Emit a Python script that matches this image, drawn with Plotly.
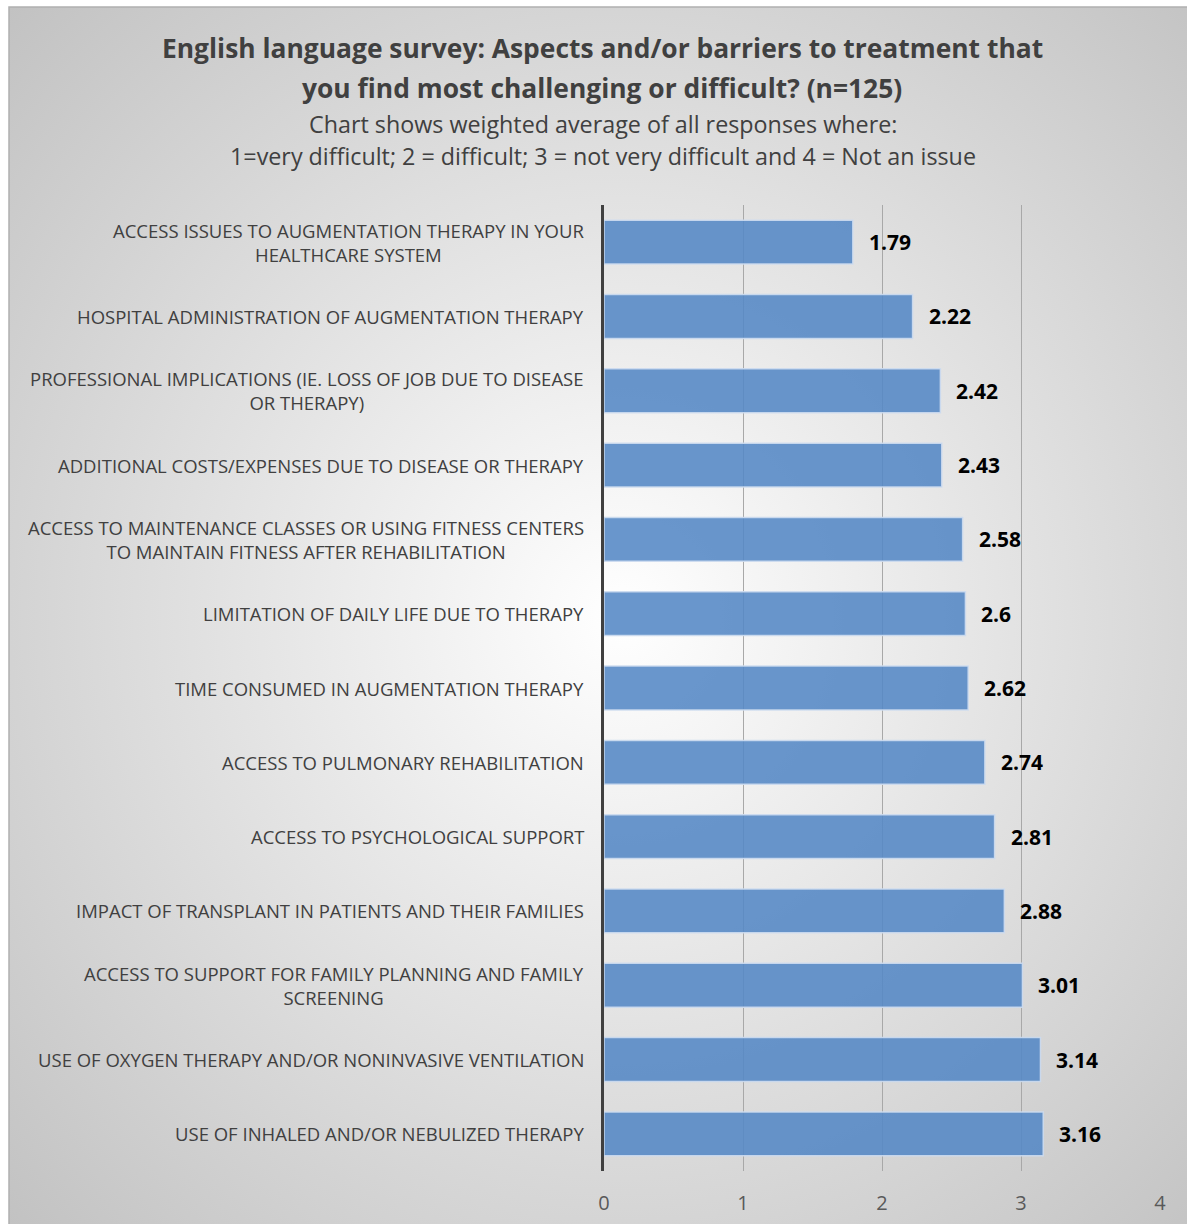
import base64
import plotly.graph_objects as go

# Survey items (top to bottom) and their weighted average scores
categories = [
    "ACCESS ISSUES TO AUGMENTATION THERAPY IN YOUR<br>HEALTHCARE SYSTEM",
    "HOSPITAL ADMINISTRATION OF AUGMENTATION THERAPY",
    "PROFESSIONAL IMPLICATIONS (IE. LOSS OF JOB DUE TO DISEASE<br>OR THERAPY)",
    "ADDITIONAL COSTS/EXPENSES DUE TO DISEASE OR THERAPY",
    "ACCESS TO MAINTENANCE CLASSES OR USING FITNESS CENTERS<br>TO MAINTAIN FITNESS AFTER REHABILITATION",
    "LIMITATION OF DAILY LIFE DUE TO THERAPY",
    "TIME CONSUMED IN AUGMENTATION THERAPY",
    "ACCESS TO PULMONARY REHABILITATION",
    "ACCESS TO PSYCHOLOGICAL SUPPORT",
    "IMPACT OF TRANSPLANT IN PATIENTS AND THEIR FAMILIES",
    "ACCESS TO SUPPORT FOR FAMILY PLANNING AND FAMILY<br>SCREENING",
    "USE OF OXYGEN THERAPY AND/OR NONINVASIVE VENTILATION",
    "USE OF INHALED AND/OR NEBULIZED THERAPY",
]
scores = [1.79, 2.22, 2.42, 2.43, 2.58, 2.6, 2.62, 2.74, 2.81, 2.88, 3.01, 3.14, 3.16]
score_labels = ["1.79", "2.22", "2.42", "2.43", "2.58", "2.6", "2.62",
                "2.74", "2.81", "2.88", "3.01", "3.14", "3.16"]
x_ticks = [0, 1, 2, 3, 4]

title_lines = [
    "English language survey: Aspects and/or barriers to treatment that",
    "you find most challenging or difficult? (n=125)",
]
subtitle_lines = [
    "Chart shows weighted average of all responses where:",
    "1=very difficult; 2 = difficult; 3 = not very difficult and 4 = Not an issue",
]

W, H = 1187, 1224
L, R, T, B = 604, 27, 205, 53
PW, PH = W - L - R, H - T - B
FONT = "Open Sans"


def px_to_paper_x(px):
    return (px - L) / PW


def px_to_paper_y(py):
    return (H - B - py) / PH


# radial grey-to-white backdrop for the chart box
svg = (
    '<svg xmlns="http://www.w3.org/2000/svg" width="100" height="100" '
    'preserveAspectRatio="none" viewBox="0 0 100 100">'
    '<defs><radialGradient id="g" cx="52%" cy="50%" r="72%">'
    '<stop offset="0%" stop-color="#ffffff"/>'
    '<stop offset="100%" stop-color="#c2c2c2"/>'
    '</radialGradient></defs>'
    '<rect width="100" height="100" fill="url(#g)"/></svg>'
)
bg_src = "data:image/svg+xml;base64," + base64.b64encode(svg.encode()).decode()

box_x0, box_y0, box_x1, box_y1 = 9, 7, W + 2, H + 2

fig = go.Figure()
fig.add_trace(go.Bar(
    x=scores,
    y=categories,
    orientation="h",
    marker=dict(color="rgba(84,136,197,0.88)",
                line=dict(color="rgba(205,220,240,0.9)", width=1.5)),
    hoverinfo="x+y",
))

annotations = []
# category labels, centred lines, right-aligned block
for cat in categories:
    annotations.append(dict(
        x=px_to_paper_x(586), xref="paper", y=cat, yref="y",
        text=cat, showarrow=False, xanchor="right", yanchor="middle",
        align="center", font=dict(family=FONT, size=18.5, color="#404040"),
    ))
# value labels at bar ends
for cat, v, lab in zip(categories, scores, score_labels):
    annotations.append(dict(
        x=v, xref="x", y=cat, yref="y", text="<b>%s</b>" % lab,
        showarrow=False, xanchor="left", yanchor="middle", xshift=14,
        font=dict(family=FONT, size=21, color="#000000"),
    ))
# titles
for line, py in zip(title_lines, [48, 88]):
    annotations.append(dict(
        x=px_to_paper_x(602), xref="paper", y=px_to_paper_y(py), yref="paper",
        text="<b>%s</b>" % line, showarrow=False, xanchor="center",
        yanchor="middle", font=dict(family=FONT, size=26.4, color="#404040"),
    ))
for line, py in zip(subtitle_lines, [124, 156]):
    annotations.append(dict(
        x=px_to_paper_x(603), xref="paper", y=px_to_paper_y(py), yref="paper",
        text=line, showarrow=False, xanchor="center", yanchor="middle",
        font=dict(family=FONT, size=23.3, color="#404040"),
    ))

fig.update_layout(
    width=W, height=H,
    margin=dict(l=L, r=R, t=T, b=B, pad=0),
    paper_bgcolor="#ffffff",
    plot_bgcolor="rgba(0,0,0,0)",
    showlegend=False,
    bargap=0.41,
    font=dict(family=FONT, color="#595959"),
    xaxis=dict(
        range=[0, 4], tickvals=x_ticks, ticktext=[str(t) for t in x_ticks],
        showgrid=True, gridcolor="#a8a8a8", gridwidth=1,
        zeroline=False, showline=False, ticks="",
        tickfont=dict(family=FONT, size=20, color="#595959"),
        ticklabelstandoff=18, fixedrange=True, automargin=False,
    ),
    yaxis=dict(
        range=[len(categories) - 0.5, -0.5], showticklabels=False,
        showgrid=False, zeroline=False, showline=True,
        linecolor="#404040", linewidth=3, ticks="", fixedrange=True,
        automargin=False,
    ),
    images=[dict(
        source=bg_src, xref="paper", yref="paper",
        x=px_to_paper_x(box_x0), y=px_to_paper_y(box_y0),
        sizex=(box_x1 - box_x0) / PW, sizey=(box_y1 - box_y0) / PH,
        xanchor="left", yanchor="top", sizing="stretch", layer="below",
    )],
    shapes=[dict(
        type="rect", xref="paper", yref="paper",
        x0=px_to_paper_x(box_x0), x1=px_to_paper_x(box_x1),
        y0=px_to_paper_y(box_y1), y1=px_to_paper_y(box_y0),
        line=dict(color="#b0b0b0", width=1.5), layer="below",
    )],
    annotations=annotations,
)

fig.write_html("out.html", config={"displayModeBar": False})
